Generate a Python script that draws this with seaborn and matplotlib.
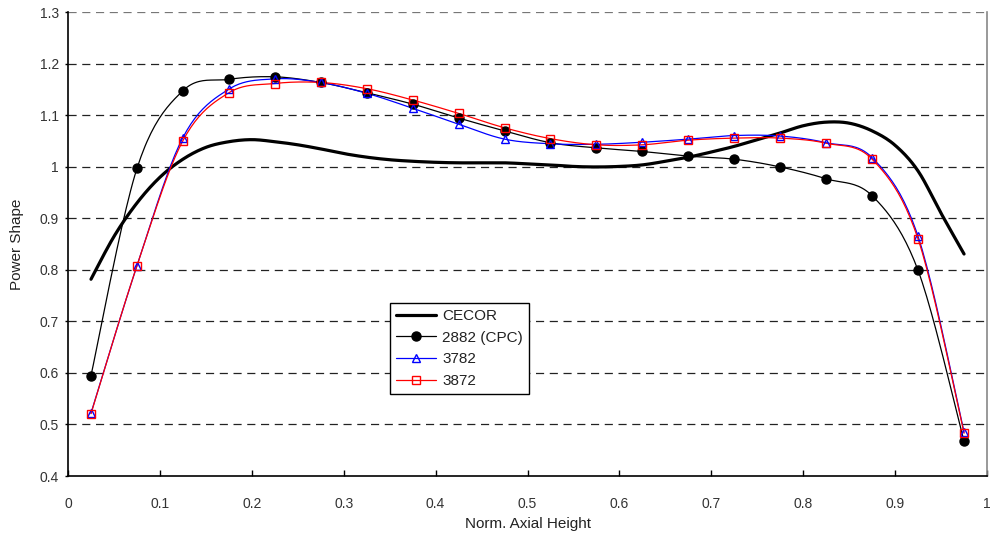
import numpy as np
import pandas as pd
import matplotlib
matplotlib.use("Agg")
import matplotlib.pyplot as plt
from matplotlib.lines import Line2D
from matplotlib.ticker import FuncFormatter
import seaborn as sns

# Node positions (normalized axial height) for the code results
nodes = [0.025, 0.075, 0.125, 0.175, 0.225, 0.275, 0.325, 0.375, 0.425, 0.475,
         0.525, 0.575, 0.625, 0.675, 0.725, 0.775, 0.825, 0.875, 0.925, 0.975]

cpc_2882 = [0.595, 0.997, 1.148, 1.170, 1.175, 1.164, 1.144, 1.122, 1.095, 1.070,
            1.047, 1.037, 1.030, 1.021, 1.015, 1.000, 0.977, 0.944, 0.799, 0.467]
case_3782 = [0.522, 0.808, 1.057, 1.151, 1.171, 1.164, 1.143, 1.114, 1.083, 1.054,
             1.045, 1.044, 1.048, 1.054, 1.061, 1.060, 1.047, 1.018, 0.865, 0.485]
case_3872 = [0.521, 0.808, 1.051, 1.144, 1.162, 1.164, 1.152, 1.130, 1.104, 1.076,
             1.055, 1.043, 1.043, 1.052, 1.056, 1.056, 1.046, 1.015, 0.860, 0.483]

# CECOR synthesized shape, finer axial grid
cecor_x = [0.025, 0.05, 0.075, 0.1, 0.125, 0.15, 0.175, 0.2, 0.225, 0.25,
           0.275, 0.3, 0.325, 0.35, 0.375, 0.4, 0.425, 0.45, 0.475, 0.5,
           0.525, 0.55, 0.575, 0.6, 0.625, 0.65, 0.675, 0.7, 0.725, 0.75,
           0.775, 0.8, 0.825, 0.85, 0.875, 0.9, 0.925, 0.95, 0.975]
cecor_y = [0.782, 0.865, 0.930, 0.980, 1.015, 1.038, 1.049, 1.053, 1.049, 1.043,
           1.035, 1.026, 1.019, 1.014, 1.011, 1.009, 1.008, 1.008, 1.008, 1.006,
           1.004, 1.001, 1.000, 1.001, 1.004, 1.011, 1.019, 1.029, 1.040, 1.053,
           1.066, 1.080, 1.087, 1.085, 1.070, 1.042, 0.992, 0.910, 0.831]

x_ticks = [0, 0.1, 0.2, 0.3, 0.4, 0.5, 0.6, 0.7, 0.8, 0.9, 1.0]
y_ticks = [0.4, 0.5, 0.6, 0.7, 0.8, 0.9, 1.0, 1.1, 1.2, 1.3]


def smooth(xs, ys, n=24):
    """Bezier smoothing through every point (tangent = neighbour difference / 6)."""
    p = np.column_stack([xs, ys]).astype(float)
    p_ext = np.vstack([p[0], p, p[-1]])
    t = np.linspace(0, 1, n)[:, None]
    out = []
    for i in range(len(p) - 1):
        p0, p1, p2, p3 = p_ext[i], p_ext[i + 1], p_ext[i + 2], p_ext[i + 3]
        c1 = p1 + (p2 - p0) / 6.0
        c2 = p2 - (p3 - p1) / 6.0
        seg = ((1 - t) ** 3) * p1 + 3 * ((1 - t) ** 2) * t * c1 + 3 * (1 - t) * t ** 2 * c2 + t ** 3 * p2
        out.append(seg if i == 0 else seg[1:])
    seg = np.vstack(out)
    return seg[:, 0], seg[:, 1]


sns.set_theme(style="white")
plt.rcParams["font.family"] = ["Liberation Sans", "DejaVu Sans"]

fig = plt.figure(figsize=(9.9, 5.4), dpi=100)
ax = fig.add_axes([0.0687, 0.1185, 0.9283, 0.8585])

series = [
    ("CECOR", cecor_x, cecor_y, "black", 2.3, None, "black"),
    ("2882 (CPC)", nodes, cpc_2882, "black", 0.9, "o", "black"),
    ("3782", nodes, case_3782, "blue", 0.9, "^", "none"),
    ("3872", nodes, case_3872, "red", 0.9, "s", "none"),
]

handles = []
for name, xs, ys, color, lw, marker, face in series:
    sx, sy = smooth(xs, ys)
    curve = pd.DataFrame({"h": sx, "p": sy})
    sns.lineplot(data=curve, x="h", y="p", ax=ax, color=color, linewidth=lw,
                 sort=False, estimator=None, legend=False, zorder=3)
    ms = 6.5 if marker == "o" else 5.2
    if marker is not None:
        pts = pd.DataFrame({"h": xs, "p": ys})
        ax.plot(pts["h"], pts["p"], linestyle="none", marker=marker, markersize=ms,
                markerfacecolor=face, markeredgecolor=color, markeredgewidth=1.0, zorder=4)
    handles.append(Line2D([], [], color=color, linewidth=lw, marker=marker,
                          markersize=ms, markerfacecolor=face, markeredgecolor=color,
                          markeredgewidth=1.0, label=name))

ax.set_xlim(0, 1)
ax.set_ylim(0.4, 1.3)
ax.set_xticks(x_ticks)
ax.set_yticks(y_ticks)
fmt = FuncFormatter(lambda v, _: f"{v:g}")
ax.xaxis.set_major_formatter(fmt)
ax.yaxis.set_major_formatter(fmt)

for yv in y_ticks[1:]:
    ax.axhline(yv, color="#222222" if yv < 1.25 else "#777777",
               linestyle=(0, (6.5, 4.5)), linewidth=0.9, zorder=1)

ax.spines["top"].set_visible(False)
ax.spines["right"].set_color("#888888")
ax.spines["right"].set_linewidth(1.2)
for side in ("left", "bottom"):
    ax.spines[side].set_color("black")
    ax.spines[side].set_linewidth(1.2)

ax.tick_params(axis="x", direction="in", length=4, width=1, colors="black",
               labelsize=10, labelcolor="#333333", pad=15, bottom=True)
ax.tick_params(axis="y", direction="out", length=2.5, width=1, colors="black",
               labelsize=10, labelcolor="#333333", pad=4, left=True)

ax.set_xlabel("Norm. Axial Height", fontsize=11, color="#222222")
ax.set_ylabel("Power Shape", fontsize=11, color="#222222")
ax.xaxis.set_label_coords(0.5, -0.088)
ax.yaxis.set_label_coords(-0.048, 0.5)

leg = ax.legend(handles=handles, loc="upper left", bbox_to_anchor=(0.350, 0.373),
                borderaxespad=0, frameon=True, fancybox=False, framealpha=1,
                edgecolor="black", fontsize=11, handlelength=2.6,
                handletextpad=0.45, labelspacing=0.5, borderpad=0.4)
leg.get_frame().set_linewidth(1.0)
leg.set_zorder(6)
for t in leg.get_texts():
    t.set_color("#222222")

fig.savefig("out.png", dpi=100)
